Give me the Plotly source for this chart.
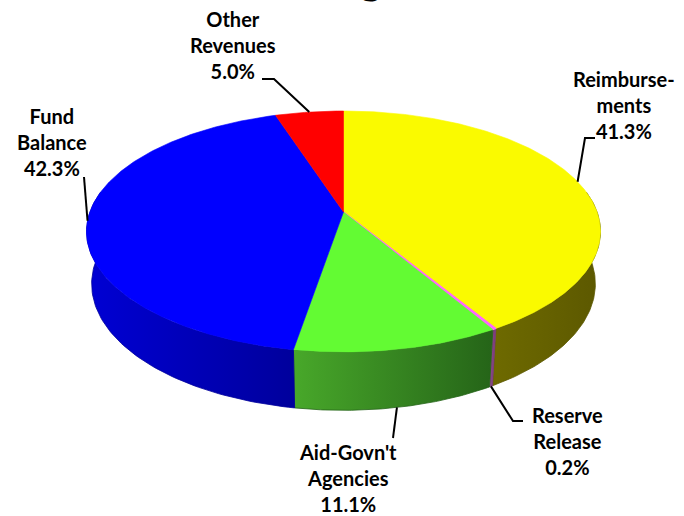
import numpy as np
import plotly.graph_objects as go

# Financing sources (percent of total), clockwise from 12 o'clock
categories = ["Reimbursements", "Reserve Release", "Aid-Govn't Agencies", "Fund Balance", "Other Revenues"]
label_text = ["Reimburse-<br>ments", "Reserve<br>Release", "Aid-Govn't<br>Agencies", "Fund<br>Balance", "Other<br>Revenues"]
values = [41.3, 0.2, 11.1, 42.3, 5.0]

top_colors = ["#fafa00", "#ff66ff", "#63fb33", "#0000ff", "#ff0000"]
side_colors = [("#6e6a00", "#5c5800"), ("#8a4a8a", "#7a3a7a"), ("#48a82a", "#256418"),
               ("#0000d4", "#00009c"), ("#c00000", "#900000")]

W, H = 684, 516
# perspective camera for the tilted disc
CX, CY = 343.5, 212.0
PHI = np.radians(27.56)
L = 5.479
F = 1389.5
DEPTH = 0.235


def proj(theta_deg, z):
    t = np.radians(np.asarray(theta_deg, dtype=float))
    X, Y = np.sin(t), -np.cos(t)
    d = L - Y * np.cos(PHI) - z * np.sin(PHI)
    return CX + F * X / d, CY + F * (Y * np.sin(PHI) - z * np.cos(PHI)) / d


total = sum(values)
spans = [v / total * 360.0 for v in values]
starts = np.concatenate([[0.0], np.cumsum(spans)[:-1]])
ends = starts + np.array(spans)

fig = go.Figure()

# side walls (front half only), drawn before the top faces
for i in range(len(values)):
    a0, a1 = max(starts[i], 80.0), min(ends[i], 280.0)
    if a1 <= a0:
        continue
    th = np.linspace(a0, a1, 80)
    xt, yt = proj(th, 0.0)
    xb, yb = proj(th[::-1], -DEPTH)
    xs = np.concatenate([xt, xb, xt[:1]])
    ys = np.concatenate([yt, yb, yt[:1]])
    c0, c1 = side_colors[i]
    fig.add_trace(go.Scatter(
        x=xs, y=ys, mode="lines", fill="toself",
        line=dict(color=c1, width=0.8),
        fillgradient=dict(type="horizontal", colorscale=[[0, c0], [1, c1]]),
        hoverinfo="skip", showlegend=False))

# top faces
for i in range(len(values)):
    th = np.linspace(starts[i], ends[i], max(4, int(spans[i] * 2)))
    xr, yr = proj(th, 0.0)
    xs = np.concatenate([[CX], xr, [CX]])
    ys = np.concatenate([[CY], yr, [CY]])
    fig.add_trace(go.Scatter(
        x=xs, y=ys, mode="lines", fill="toself", fillcolor=top_colors[i],
        line=dict(color=top_colors[i], width=1.2 if values[i] < 1 else 0.6),
        hoverinfo="skip", showlegend=False))

# label placement: (label centre x, first line y, elbow, end of leader near text, rim z)
label_layout = {
    "Reimbursements": (624, 78, (585, 138), (595, 138), 0.0),
    "Reserve Release": (567, 414, (513, 421), (523, 421), -DEPTH),
    "Aid-Govn't Agencies": (348, 451, (393, 438), (393, 438), -DEPTH),
    "Fund Balance": (52, 115, (84, 177), (84, 177), 0.0),
    "Other Revenues": (233, 18, (274, 79), (262, 79), 0.0),
}

for i, name in enumerate(categories):
    lx, ly, elbow, tip, z = label_layout[name]
    mid = (starts[i] + ends[i]) / 2.0
    px, py = proj(mid, z)
    fig.add_trace(go.Scatter(
        x=[float(px), elbow[0], tip[0]], y=[float(py), elbow[1], tip[1]],
        mode="lines", line=dict(color="black", width=2),
        hoverinfo="skip", showlegend=False))
    fig.add_annotation(
        x=lx, y=ly - 13, xref="x", yref="y", xanchor="center", yanchor="top",
        text=f"{label_text[i]}<br>{values[i]:.1f}%", showarrow=False, align="center",
        font=dict(family="Lato", size=20, color="black", weight="bold"))

# chart heading (runs off the top edge)
fig.add_annotation(
    x=384, y=5, xref="x", yref="y", xanchor="right", yanchor="bottom",
    text="Financing", showarrow=False,
    font=dict(family="Lato", size=42, color="black", weight="bold"))

fig.update_xaxes(range=[0, W], visible=False, fixedrange=True)
fig.update_yaxes(range=[H, 0], visible=False, fixedrange=True)
fig.update_layout(
    width=W, height=H, margin=dict(l=0, r=0, t=0, b=0),
    paper_bgcolor="white", plot_bgcolor="white", showlegend=False)

fig.write_html("out.html")
